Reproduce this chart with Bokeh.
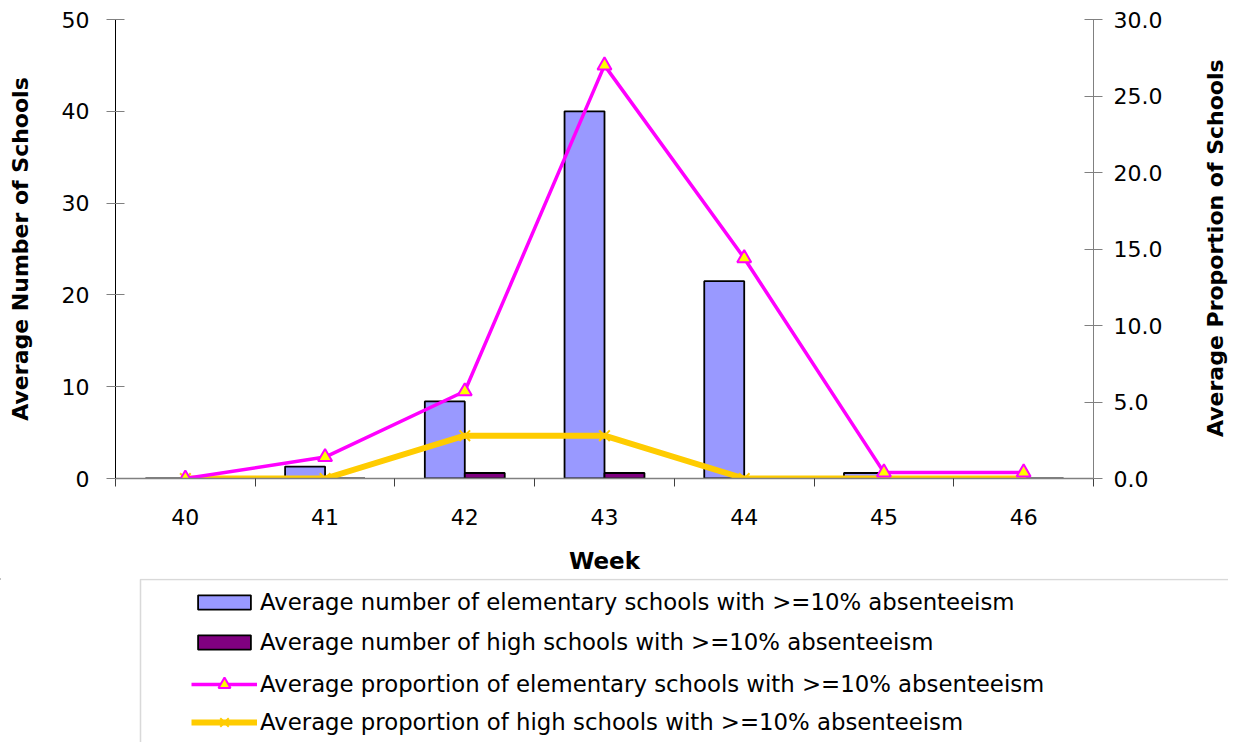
import math
from bokeh.plotting import figure
from bokeh.layouts import column, row
from bokeh.models import (Range1d, LinearAxis, FixedTicker, PrintfTickFormatter, Legend,
                          LegendItem, Label, BoxAnnotation, ColumnDataSource)
from bokeh.transform import dodge
from bokeh.embed import file_html
from bokeh.resources import INLINE

weeks = [40, 41, 42, 43, 44, 45, 46]
elem_num = [0, 1.3, 8.4, 40.0, 21.5, 0.6, 0.0]
high_num = [0, 0, 0.6, 0.6, 0, 0, 0]
elem_prop = [0.0, 1.4, 5.7, 27.0, 14.4, 0.4, 0.4]
high_prop = [0.0, 0.0, 2.8, 2.8, 0.0, 0.0, 0.0]
left_ticks = [0, 10, 20, 30, 40, 50]
right_ticks = [0, 5, 10, 15, 20, 25, 30]

labels = [
    "Average number of elementary schools with >=10% absenteeism",
    "Average number of high schools with >=10% absenteeism",
    "Average proportion of elementary schools with >=10% absenteeism",
    "Average proportion of high schools with >=10% absenteeism",
]

FONT = "DejaVu Sans"
C_ELEM_BAR = "#9999FF"
C_HIGH_BAR = "#800080"
C_ELEM_LINE = "#FF00FF"
C_HIGH_LINE = "#FFCC00"

src = ColumnDataSource(dict(week=weeks, en=elem_num, hn=high_num, ep=elem_prop, hp=high_prop))

# ---------------- main chart ----------------
p = figure(width=1190, height=578, output_backend="svg", toolbar_location=None,
           x_range=Range1d(39.5, 46.5), y_range=Range1d(0, 50),
           min_border_left=115, min_border_right=97, min_border_top=19, min_border_bottom=100)
p.extra_y_ranges = {"prop": Range1d(0, 30)}
p.xgrid.visible = False
p.ygrid.visible = False
p.outline_line_color = None

bw = 0.286
p.vbar(x=dodge("week", -bw / 2, range=p.x_range), top="en", width=bw, source=src,
       fill_color=C_ELEM_BAR, line_color="black", line_width=1.8)
p.vbar(x=dodge("week", bw / 2, range=p.x_range), top="hn", width=bw, source=src,
       fill_color=C_HIGH_BAR, line_color="black", line_width=1.8)
p.line("week", "hp", source=src, y_range_name="prop", line_color=C_HIGH_LINE, line_width=6)
p.line("week", "ep", source=src, y_range_name="prop", line_color=C_ELEM_LINE, line_width=3.5)
p.scatter("week", "hp", source=src, y_range_name="prop", marker="x", size=15,
          line_color=C_HIGH_LINE, line_width=2)
p.scatter("week", "ep", source=src, y_range_name="prop", marker="triangle", size=14,
          fill_color="#FFFF00", line_color=C_ELEM_LINE, line_width=2)

xa = p.xaxis[0]
xa.ticker = FixedTicker(ticks=weeks, minor_ticks=[w - 0.5 for w in weeks] + [46.5])
xa.major_tick_out = 0
xa.major_tick_in = 0
xa.minor_tick_out = 8
xa.minor_tick_in = 0
xa.minor_tick_line_color = "#404040"
xa.axis_line_color = "#808080"
xa.axis_line_width = 1.5
xa.major_label_text_font = FONT
xa.major_label_text_font_size = "22px"
xa.major_label_text_color = "black"
xa.major_label_standoff = 22
xa.axis_label = "Week"
xa.axis_label_text_font = FONT
xa.axis_label_text_font_style = "bold"
xa.axis_label_text_font_size = "23px"
xa.axis_label_text_color = "black"
xa.axis_label_standoff = 20

ya = p.yaxis[0]
ya.ticker = FixedTicker(ticks=left_ticks)
ya.minor_tick_line_color = None
ya.major_tick_in = 9
ya.major_tick_out = 9
ya.major_tick_line_color = "#808080"
ya.axis_line_color = "black"
ya.major_label_text_font = FONT
ya.major_label_text_font_size = "22px"
ya.major_label_text_color = "black"
ya.major_label_standoff = 17
ya.axis_label = "Average Number of Schools"
ya.axis_label_text_font = FONT
ya.axis_label_text_font_style = "bold"
ya.axis_label_text_font_size = "22px"
ya.axis_label_text_color = "black"
ya.axis_label_standoff = 26

ra = LinearAxis(y_range_name="prop", ticker=FixedTicker(ticks=right_ticks),
                formatter=PrintfTickFormatter(format="%.1f"))
ra.minor_tick_line_color = None
ra.major_tick_in = 9
ra.major_tick_out = 9
ra.major_tick_line_color = "#808080"
ra.axis_line_color = "#808080"
ra.major_label_text_font = FONT
ra.major_label_text_font_size = "22px"
ra.major_label_text_color = "black"
ra.major_label_standoff = 11
p.add_layout(ra, "right")

# ---------------- right title strip ----------------
pr = figure(width=38, height=578, output_backend="svg", toolbar_location=None,
            x_range=Range1d(0, 38), y_range=Range1d(578, 0),
            min_border=0, x_axis_location=None, y_axis_location=None)
pr.outline_line_color = None
pr.xgrid.visible = False
pr.ygrid.visible = False
pr.add_layout(Label(x=25, y=288, text="Average Proportion of Schools",
                    angle=math.pi / 2, text_align="center", text_baseline="middle",
                    text_font=FONT, text_font_style="bold", text_font_size="22px",
                    text_color="black"))

# ---------------- legend strip ----------------
LH = 164
pl = figure(width=1228, height=LH, output_backend="svg", toolbar_location=None,
            x_range=Range1d(0, 1228), y_range=Range1d(LH, 0),
            min_border=0, x_axis_location=None, y_axis_location=None)
pl.outline_line_color = None
pl.xgrid.visible = False
pl.ygrid.visible = False
pl.add_layout(BoxAnnotation(left=140, right=1400, top=1, bottom=400,
                            fill_alpha=0, line_color="#808080", line_width=1.5))

# style-only renderers for the legend swatches (placed outside the visible range)
e = ColumnDataSource(dict(x=[-500], y=[-500]))
g1 = pl.vbar(x="x", top="y", width=1, source=e, fill_color=C_ELEM_BAR, line_color="black", line_width=1.8)
g2 = pl.vbar(x="x", top="y", width=1, source=e, fill_color=C_HIGH_BAR, line_color="black", line_width=1.8)
g3l = pl.line("x", "y", source=e, line_color=C_ELEM_LINE, line_width=3.5)
g3s = pl.scatter("x", "y", source=e, marker="triangle", size=14, fill_color="#FFFF00",
                 line_color=C_ELEM_LINE, line_width=2)
g4l = pl.line("x", "y", source=e, line_color=C_HIGH_LINE, line_width=6)
g4s = pl.scatter("x", "y", source=e, marker="x", size=15, line_color=C_HIGH_LINE, line_width=2)


def style(lg, gh, sp):
    lg.border_line_color = None
    lg.background_fill_alpha = 0
    lg.padding = 4
    lg.margin = 0
    lg.glyph_width = 66
    lg.glyph_height = gh
    lg.label_height = 26
    lg.spacing = sp
    lg.label_standoff = 3
    lg.label_text_font = FONT
    lg.label_text_font_size = "22.8px"
    lg.label_text_color = "black"
    lg.label_text_baseline = "middle"


leg_bars = Legend(items=[
    LegendItem(label=labels[0], renderers=[g1]),
    LegendItem(label=labels[1], renderers=[g2]),
], location=(191, 87), orientation="vertical")
style(leg_bars, 18, 14)

leg_lines = Legend(items=[
    LegendItem(label=labels[2], renderers=[g3l, g3s]),
    LegendItem(label=labels[3], renderers=[g4l, g4s]),
], location=(191, 5), orientation="vertical")
style(leg_lines, 30, 8)

pl.add_layout(leg_bars, "center")
pl.add_layout(leg_lines, "center")

layout = column(row(p, pr, spacing=0), pl, spacing=0)
open("out.html", "w").write(file_html(layout, INLINE))
